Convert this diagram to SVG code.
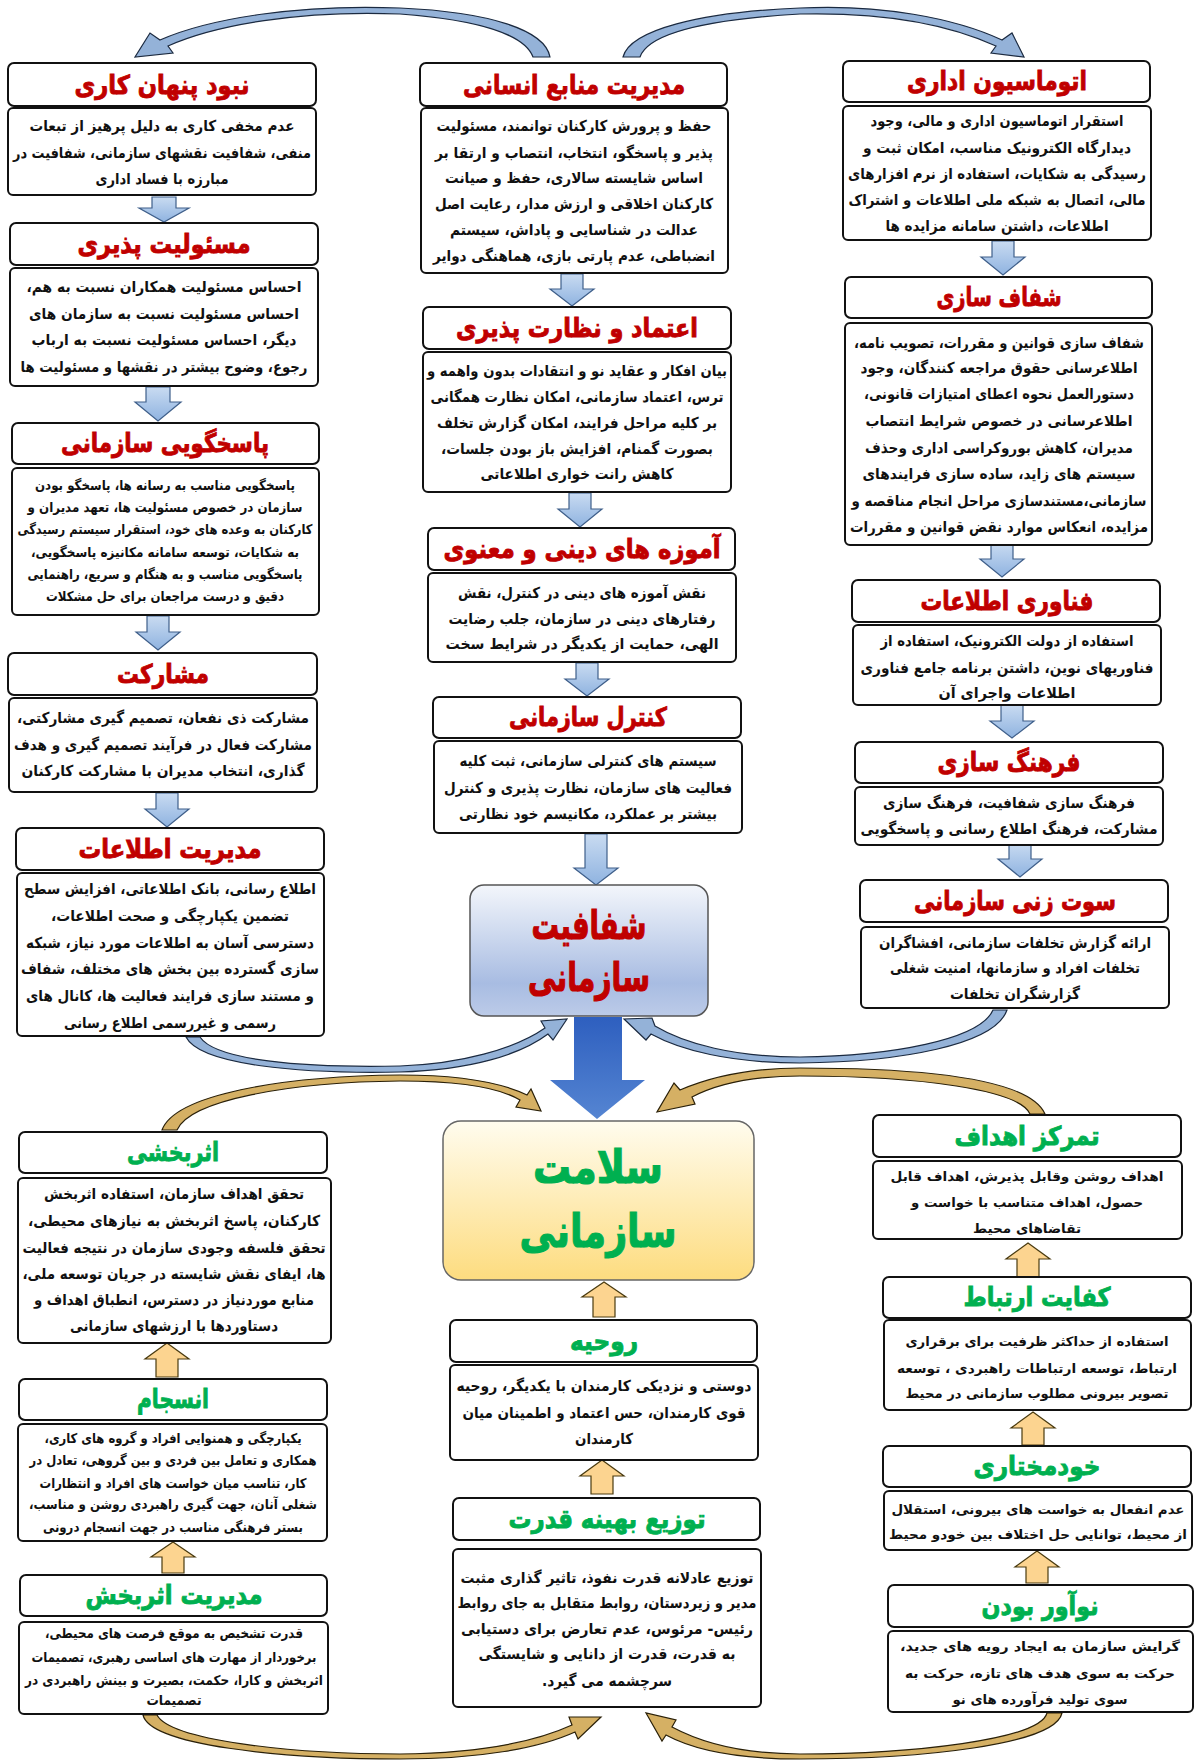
<svg xmlns="http://www.w3.org/2000/svg" width="1195" height="1760" viewBox="0 0 1195 1760">
<defs>
<linearGradient id="gBlueBox" x1="0" y1="0" x2="0" y2="1">
<stop offset="0" stop-color="#f3f6fb"/><stop offset="0.75" stop-color="#a8bce2"/><stop offset="1" stop-color="#bccbe8"/>
</linearGradient>
<linearGradient id="gGoldBox" x1="0" y1="0" x2="0" y2="1">
<stop offset="0" stop-color="#fffcee"/><stop offset="1" stop-color="#fddc7f"/>
</linearGradient>
<linearGradient id="gDown" x1="0" y1="0" x2="0" y2="1">
<stop offset="0" stop-color="#c9dbf1"/><stop offset="1" stop-color="#8fb3e0"/>
</linearGradient>
<linearGradient id="gBig" x1="0" y1="0" x2="0" y2="1">
<stop offset="0" stop-color="#2e5fbf"/><stop offset="1" stop-color="#5585d2"/>
</linearGradient>
<style>
.tb{fill:#fff;stroke:#111;stroke-width:2}
.bb{fill:#fff;stroke:#111;stroke-width:2}
.tr{font-family:"DejaVu Sans",sans-serif;font-weight:bold;font-size:26px;fill:#c00000;stroke:#c00000;stroke-width:0.9;text-anchor:middle;direction:rtl}
.tg{font-family:"DejaVu Sans",sans-serif;font-weight:bold;font-size:26px;fill:#00b050;stroke:#00b050;stroke-width:0.9;text-anchor:middle;direction:rtl}
.bt{font-family:"DejaVu Sans",sans-serif;font-weight:bold;font-size:15px;fill:#111;text-anchor:middle;direction:rtl}
.bs{font-size:13.5px}
.bx{font-size:13px}
.da{fill:url(#gDown);stroke:#3f5f8a;stroke-width:1.2}
.ua{fill:#fcd490;stroke:#4a3b10;stroke-width:1.2}
.cb{fill:#94b2d8;stroke:#1b2a40;stroke-width:1.2}
.cg{fill:#d5b064;stroke:#2a2008;stroke-width:1.2}
.big{font-family:"DejaVu Sans",sans-serif;font-weight:bold;font-size:40px;text-anchor:middle;direction:rtl;stroke-width:1.2}
</style>
</defs>
<rect width="1195" height="1760" fill="#fff"/>

<g id="connectors">
<path class="cb" d="M533 57 C525 35 480 20 400 14 C300 10 215 25 168 46 L173 53 L135 57 L150 33 L160 40 C210 18 300 4 400 8 C490 12 545 30 550 57 Z"/>
<path class="cb" d="M640 57 C648 35 700 20 800 14 C890 12 950 25 996 46 L991 53 L1024 57 L1012 33 L1002 40 C955 18 880 4 800 8 C700 12 630 30 623 57 Z"/>
<path class="cb" d="M186 1037 C200 1065 300 1074 400 1072 C470 1070 520 1055 548 1034 L553 1040 L567 1019 L541 1021 L545 1028 C515 1049 460 1064 400 1066 C300 1068 215 1060 200 1037 Z"/>
<path class="cb" d="M1007 1010 C995 1045 900 1062 800 1063 C730 1063 680 1050 651 1034 L646 1040 L624 1019 L652 1018 L655 1026 C685 1044 735 1057 800 1057 C890 1056 980 1040 993 1010 Z"/>
<path class="cg" d="M177 1130 C190 1100 290 1082 400 1081 C460 1081 500 1088 520 1100 L516 1107 L541 1111 L531 1089 L527 1095 C500 1082 460 1075 400 1075 C280 1076 175 1095 162 1130 Z"/>
<path class="cg" d="M1030 1114 C1020 1090 920 1076 800 1076 C750 1076 715 1085 692 1097 L695 1104 L657 1112 L674 1083 L680 1090 C710 1077 750 1068 800 1068 C930 1068 1030 1080 1045 1114 Z"/>
<path class="cg" d="M143 1715 C150 1745 280 1759 400 1759 C480 1759 540 1748 575 1732 L578 1739 L601 1717 L569 1717 L572 1725 C535 1742 480 1753 400 1754 C290 1754 170 1740 157 1715 Z"/>
<path class="cg" d="M1062 1713 C1055 1745 920 1759 800 1759 C730 1759 690 1748 666 1735 L662 1741 L646 1713 L676 1720 L672 1727 C700 1742 740 1754 800 1754 C910 1754 1040 1740 1047 1713 Z"/>
<path class="da" d="M152 197 H176 V208 H189 L164 222 L139 208 H152 Z"/>
<path class="da" d="M146 387 H170 V402 H181 L158 421 L135 402 H146 Z"/>
<path class="da" d="M147 616 H169 V632 H180 L158 650 L136 632 H147 Z"/>
<path class="da" d="M156 793 H178 V809 H189 L167 827 L145 809 H156 Z"/>
<path class="da" d="M561 274 H583 V289 H594 L572 306 L550 289 H561 Z"/>
<path class="da" d="M569 493 H591 V509 H602 L580 527 L558 509 H569 Z"/>
<path class="da" d="M576 663 H598 V679 H609 L587 696 L565 679 H576 Z"/>
<path class="da" d="M585 834 H607 V868 H618 L596 885 L574 868 H585 Z"/>
<path class="da" d="M992 241 H1014 V257 H1025 L1003 275 L981 257 H992 Z"/>
<path class="da" d="M991 543 H1013 V559 H1024 L1002 577 L980 559 H991 Z"/>
<path class="da" d="M1001 705 H1023 V721 H1034 L1012 738 L990 721 H1001 Z"/>
<path class="da" d="M1009 843 H1031 V859 H1042 L1020 877 L998 859 H1009 Z"/>
<path fill="url(#gBig)" d="M574 1017 H622 V1080 H645 L597 1119 L550 1080 H574 Z"/>
<path class="ua" d="M593 1317 H615 V1297 H626 L604 1282 L582 1297 H593 Z"/>
<path class="ua" d="M591 1494 H613 V1476 H624 L602 1460 L580 1476 H591 Z"/>
<path class="ua" d="M1017 1277 H1039 V1259 H1050 L1028 1243 L1006 1259 H1017 Z"/>
<path class="ua" d="M1022 1445 H1044 V1428 H1055 L1033 1412 L1011 1428 H1022 Z"/>
<path class="ua" d="M1026 1583 H1048 V1567 H1059 L1037 1551 L1015 1567 H1026 Z"/>
<path class="ua" d="M156 1377 H178 V1359 H189 L167 1343 L145 1359 H156 Z"/>
<path class="ua" d="M162 1573 H184 V1557 H195 L173 1542 L151 1557 H162 Z"/>
</g>

<g id="n-nabood">
<rect class="tb" x="8" y="63" width="308" height="43" rx="6"/>
<text class="tr" x="162" y="94" textLength="175" lengthAdjust="spacingAndGlyphs">نبود پنهان کاری</text>
<rect class="bb" x="8" y="108" width="308" height="87" rx="5"/>
<text class="bt" x="162" y="131" textLength="265" lengthAdjust="spacingAndGlyphs">عدم مخفی کاری به دلیل پرهیز از تبعات</text>
<text class="bt" x="162" y="158" textLength="298" lengthAdjust="spacingAndGlyphs">منفی، شفافیت نقشهای سازمانی، شفافیت در</text>
<text class="bt" x="162" y="184" textLength="133" lengthAdjust="spacingAndGlyphs">مبارزه با فساد اداری</text>
</g>

<g id="n-masooliat">
<rect class="tb" x="10" y="223" width="308" height="42" rx="6"/>
<text class="tr" x="164" y="253" textLength="173" lengthAdjust="spacingAndGlyphs">مسئولیت پذیری</text>
<rect class="bb" x="10" y="268" width="308" height="118" rx="5"/>
<text class="bt" x="164" y="292" textLength="275" lengthAdjust="spacingAndGlyphs">احساس مسئولیت همکاران نسبت به هم،</text>
<text class="bt" x="164" y="319" textLength="270" lengthAdjust="spacingAndGlyphs">احساس مسئولیت نسبت به سازمان های</text>
<text class="bt" x="164" y="345" textLength="265" lengthAdjust="spacingAndGlyphs">دیگر، احساس مسئولیت نسبت به ارباب</text>
<text class="bt" x="164" y="372" textLength="287" lengthAdjust="spacingAndGlyphs">رجوع، وضوح بیشتر در نقشها و مسئولیت ها</text>
</g>

<g id="n-pasokhgooyi">
<rect class="tb" x="12" y="423" width="307" height="41" rx="6"/>
<text class="tr" x="165" y="452" textLength="208" lengthAdjust="spacingAndGlyphs">پاسخگویی سازمانی</text>
<rect class="bb" x="12" y="468" width="307" height="147" rx="5"/>
<text class="bt bs" x="165" y="490" textLength="260" lengthAdjust="spacingAndGlyphs">پاسخگویی مناسب به رسانه ها، پاسخگو بودن</text>
<text class="bt bs" x="165" y="512" textLength="275" lengthAdjust="spacingAndGlyphs">سازمان در خصوص مسئولیت ها، تعهد مدیران و</text>
<text class="bt bs" x="165" y="534" textLength="295" lengthAdjust="spacingAndGlyphs">کارکنان به وعده های خود، استقرار سیستم رسیدگی</text>
<text class="bt bs" x="165" y="557" textLength="268" lengthAdjust="spacingAndGlyphs">به شکایات، توسعه سامانه مکانیزه پاسخگویی،</text>
<text class="bt bs" x="165" y="579" textLength="275" lengthAdjust="spacingAndGlyphs">پاسخگویی مناسب و به هنگام و سریع، راهنمایی</text>
<text class="bt bs" x="165" y="601" textLength="238" lengthAdjust="spacingAndGlyphs">دقیق و درست مراجعان برای حل مشکلات</text>
</g>

<g id="n-mosharekat">
<rect class="tb" x="8" y="653" width="309" height="42" rx="6"/>
<text class="tr" x="163" y="683" textLength="92" lengthAdjust="spacingAndGlyphs">مشارکت</text>
<rect class="bb" x="9" y="698" width="308" height="94" rx="5"/>
<text class="bt" x="163" y="723" textLength="292" lengthAdjust="spacingAndGlyphs">مشارکت ذی نفعان، تصمیم گیری مشارکتی،</text>
<text class="bt" x="163" y="750" textLength="298" lengthAdjust="spacingAndGlyphs">مشارکت فعال در فرآیند تصمیم گیری و هدف</text>
<text class="bt" x="163" y="776" textLength="283" lengthAdjust="spacingAndGlyphs">گذاری، انتخاب مدیران با مشارکت کارکنان</text>
</g>

<g id="n-modiriat-etelaat">
<rect class="tb" x="16" y="828" width="308" height="42" rx="6"/>
<text class="tr" x="170" y="858" textLength="183" lengthAdjust="spacingAndGlyphs">مدیریت اطلاعات</text>
<rect class="bb" x="17" y="873" width="307" height="163" rx="5"/>
<text class="bt" x="170" y="894" textLength="292" lengthAdjust="spacingAndGlyphs">اطلاع رسانی، بانک اطلاعاتی، افزایش سطح</text>
<text class="bt" x="170" y="921" textLength="238" lengthAdjust="spacingAndGlyphs">تضمین یکپارچگی و صحت اطلاعات،</text>
<text class="bt" x="170" y="948" textLength="288" lengthAdjust="spacingAndGlyphs">دسترسی آسان به اطلاعات مورد نیاز، شبکه</text>
<text class="bt" x="170" y="974" textLength="298" lengthAdjust="spacingAndGlyphs">سازی گسترده بین بخش های مختلف، شفاف</text>
<text class="bt" x="170" y="1001" textLength="288" lengthAdjust="spacingAndGlyphs">و مستند سازی فرایند فعالیت ها، کانال های</text>
<text class="bt" x="170" y="1028" textLength="212" lengthAdjust="spacingAndGlyphs">رسمی و غیررسمی اطلاع رسانی</text>
</g>

<g id="n-manabe-ensani">
<rect class="tb" x="420" y="63" width="307" height="43" rx="6"/>
<text class="tr" x="574" y="94" textLength="222" lengthAdjust="spacingAndGlyphs">مدیریت منابع انسانی</text>
<rect class="bb" x="421" y="108" width="307" height="165" rx="5"/>
<text class="bt" x="574" y="131" textLength="275" lengthAdjust="spacingAndGlyphs">حفظ و پرورش کارکنان توانمند، مسئولیت</text>
<text class="bt" x="574" y="158" textLength="278" lengthAdjust="spacingAndGlyphs">پذیر و پاسخگو، انتخاب، انتصاب و ارتقا بر</text>
<text class="bt" x="574" y="183" textLength="258" lengthAdjust="spacingAndGlyphs">اساس شایسته سالاری، حفظ و صیانت</text>
<text class="bt" x="574" y="209" textLength="278" lengthAdjust="spacingAndGlyphs">کارکنان اخلاقی و ارزش مدار، رعایت اصل</text>
<text class="bt" x="574" y="235" textLength="248" lengthAdjust="spacingAndGlyphs">عدالت در شناسایی و پاداش، سیستم</text>
<text class="bt" x="574" y="261" textLength="282" lengthAdjust="spacingAndGlyphs">انضباطی، عدم پارتی بازی، هماهنگی دوایر</text>
</g>

<g id="n-etemad">
<rect class="tb" x="423" y="307" width="308" height="42" rx="6"/>
<text class="tr" x="577" y="337" textLength="242" lengthAdjust="spacingAndGlyphs">اعتماد و نظارت پذیری</text>
<rect class="bb" x="423" y="352" width="308" height="140" rx="5"/>
<text class="bt" x="577" y="376" textLength="300" lengthAdjust="spacingAndGlyphs">بیان افکار و عقاید نو و انتقادات بدون واهمه و</text>
<text class="bt" x="577" y="402" textLength="293" lengthAdjust="spacingAndGlyphs">ترس، اعتماد سازمانی، امکان نظارت همگانی</text>
<text class="bt" x="577" y="428" textLength="280" lengthAdjust="spacingAndGlyphs">بر کلیه مراحل فرایند، امکان گزارش تخلف</text>
<text class="bt" x="577" y="454" textLength="272" lengthAdjust="spacingAndGlyphs">بصورت گمنام، افزایش باز بودن جلسات،</text>
<text class="bt" x="577" y="479" textLength="193" lengthAdjust="spacingAndGlyphs">کاهش رانت خواری اطلاعاتی</text>
</g>

<g id="n-amoozeh">
<rect class="tb" x="428" y="528" width="307" height="42" rx="6"/>
<text class="tr" x="582" y="558" textLength="277" lengthAdjust="spacingAndGlyphs">آموزه های دینی و معنوی</text>
<rect class="bb" x="428" y="573" width="308" height="89" rx="5"/>
<text class="bt" x="582" y="598" textLength="248" lengthAdjust="spacingAndGlyphs">نقش آموزه های دینی در کنترل، نقش</text>
<text class="bt" x="582" y="624" textLength="267" lengthAdjust="spacingAndGlyphs">رفتارهای دینی در سازمان، جلب رضایت</text>
<text class="bt" x="582" y="649" textLength="273" lengthAdjust="spacingAndGlyphs">الهی، حمایت از یکدیگر در شرایط سخت</text>
</g>

<g id="n-control">
<rect class="tb" x="433" y="697" width="308" height="41" rx="6"/>
<text class="tr" x="588" y="726" textLength="158" lengthAdjust="spacingAndGlyphs">کنترل سازمانی</text>
<rect class="bb" x="434" y="741" width="308" height="92" rx="5"/>
<text class="bt" x="588" y="766" textLength="257" lengthAdjust="spacingAndGlyphs">سیستم های کنترلی سازمانی، ثبت کلیه</text>
<text class="bt" x="588" y="793" textLength="288" lengthAdjust="spacingAndGlyphs">فعالیت های سازمان، نظارت پذیری و کنترل</text>
<text class="bt" x="588" y="819" textLength="258" lengthAdjust="spacingAndGlyphs">بیشتر بر عملکرد، مکانیسم خود نظارتی</text>
</g>

<g id="n-automation">
<rect class="tb" x="843" y="61" width="307" height="41" rx="6"/>
<text class="tr" x="997" y="90" textLength="180" lengthAdjust="spacingAndGlyphs">اتوماسیون اداری</text>
<rect class="bb" x="843" y="106" width="308" height="134" rx="5"/>
<text class="bt" x="997" y="126" textLength="253" lengthAdjust="spacingAndGlyphs">استقرار اتوماسیون اداری و مالی، وجود</text>
<text class="bt" x="997" y="153" textLength="268" lengthAdjust="spacingAndGlyphs">دیدارگاه الکترونیک مناسب، امکان ثبت و</text>
<text class="bt" x="997" y="179" textLength="298" lengthAdjust="spacingAndGlyphs">رسیدگی به شکایات، استفاده از نرم افزارهای</text>
<text class="bt" x="997" y="205" textLength="297" lengthAdjust="spacingAndGlyphs">مالی، اتصال به شبکه ملی اطلاعات و اشتراک</text>
<text class="bt" x="997" y="231" textLength="223" lengthAdjust="spacingAndGlyphs">اطلاعات، داشتن سامانه مزایده ها</text>
</g>

<g id="n-shafafsazi">
<rect class="tb" x="845" y="277" width="307" height="41" rx="6"/>
<text class="tr" x="999" y="306" textLength="125" lengthAdjust="spacingAndGlyphs">شفاف سازی</text>
<rect class="bb" x="845" y="323" width="307" height="222" rx="5"/>
<text class="bt" x="999" y="348" textLength="290" lengthAdjust="spacingAndGlyphs">شفاف سازی قوانین و مقررات، تصویب نامه،</text>
<text class="bt" x="999" y="373" textLength="277" lengthAdjust="spacingAndGlyphs">اطلاعرسانی حقوق مراجعه کنندگان، وجود</text>
<text class="bt" x="999" y="399" textLength="270" lengthAdjust="spacingAndGlyphs">دستورالعمل نحوه اعطای امتیازات قانونی،</text>
<text class="bt" x="999" y="426" textLength="267" lengthAdjust="spacingAndGlyphs">اطلاعرسانی در خصوص شرایط انتصاب</text>
<text class="bt" x="999" y="453" textLength="268" lengthAdjust="spacingAndGlyphs">مدیران، کاهش بوروکراسی اداری وحذف</text>
<text class="bt" x="999" y="479" textLength="273" lengthAdjust="spacingAndGlyphs">سیستم های زاید، ساده سازی فرایندهای</text>
<text class="bt" x="999" y="506" textLength="295" lengthAdjust="spacingAndGlyphs">سازمانی،مستندسازی مراحل انجام مناقصه و</text>
<text class="bt" x="999" y="532" textLength="298" lengthAdjust="spacingAndGlyphs">مزایده، انعکاس موارد نقض قوانین و مقررات</text>
</g>

<g id="n-fanavari">
<rect class="tb" x="852" y="580" width="308" height="42" rx="6"/>
<text class="tr" x="1007" y="610" textLength="173" lengthAdjust="spacingAndGlyphs">فناوری اطلاعات</text>
<rect class="bb" x="853" y="625" width="308" height="80" rx="5"/>
<text class="bt" x="1007" y="646" textLength="253" lengthAdjust="spacingAndGlyphs">استفاده از دولت الکترونیک، استفاده از</text>
<text class="bt" x="1007" y="673" textLength="293" lengthAdjust="spacingAndGlyphs">فناوریهای نوین، داشتن برنامه جامع فناوری</text>
<text class="bt" x="1007" y="698" textLength="137" lengthAdjust="spacingAndGlyphs">اطلاعات واجرای آن</text>
</g>

<g id="n-farhangsazi">
<rect class="tb" x="855" y="742" width="308" height="41" rx="6"/>
<text class="tr" x="1009" y="771" textLength="143" lengthAdjust="spacingAndGlyphs">فرهنگ سازی</text>
<rect class="bb" x="855" y="787" width="308" height="58" rx="5"/>
<text class="bt" x="1009" y="808" textLength="252" lengthAdjust="spacingAndGlyphs">فرهنگ سازی شفافیت، فرهنگ سازی</text>
<text class="bt" x="1009" y="834" textLength="297" lengthAdjust="spacingAndGlyphs">مشارکت، فرهنگ اطلاع رسانی و پاسخگویی</text>
</g>

<g id="n-sootzani">
<rect class="tb" x="860" y="880" width="308" height="42" rx="6"/>
<text class="tr" x="1015" y="910" textLength="202" lengthAdjust="spacingAndGlyphs">سوت زنی سازمانی</text>
<rect class="bb" x="861" y="927" width="308" height="81" rx="5"/>
<text class="bt" x="1015" y="948" textLength="272" lengthAdjust="spacingAndGlyphs">ارائه گزارش تخلفات سازمانی، افشاگران</text>
<text class="bt" x="1015" y="973" textLength="250" lengthAdjust="spacingAndGlyphs">تخلفات افراد و سازمانها، امنیت شغلی</text>
<text class="bt" x="1015" y="999" textLength="130" lengthAdjust="spacingAndGlyphs">گزارشگران تخلفات</text>
</g>

<g id="n-shafafiat">
<rect x="470" y="885" width="238" height="131" rx="14" fill="url(#gBlueBox)" stroke="#555" stroke-width="1.5"/>
<text class="big" fill="#c00000" stroke="#c00000" x="589" y="939" textLength="115" lengthAdjust="spacingAndGlyphs">شفافیت</text>
<text class="big" fill="#c00000" stroke="#c00000" x="589" y="991" textLength="122" lengthAdjust="spacingAndGlyphs">سازمانی</text>
</g>

<g id="n-salamat">
<rect x="443" y="1121" width="311" height="159" rx="18" fill="url(#gGoldBox)" stroke="#666" stroke-width="1.5"/>
<text class="big" fill="#00b050" stroke="#00b050" x="598" y="1183" style="font-size:46px" textLength="130" lengthAdjust="spacingAndGlyphs">سلامت</text>
<text class="big" fill="#00b050" stroke="#00b050" x="598" y="1247" style="font-size:46px" textLength="157" lengthAdjust="spacingAndGlyphs">سازمانی</text>
</g>

<g id="n-asarbakhshi">
<rect class="tb" x="19" y="1132" width="308" height="41" rx="6"/>
<text class="tg" x="173" y="1161" textLength="92" lengthAdjust="spacingAndGlyphs">اثربخشی</text>
<rect class="bb" x="18" y="1178" width="313" height="165" rx="5"/>
<text class="bt" x="174" y="1199" textLength="260" lengthAdjust="spacingAndGlyphs">تحقق اهداف سازمان، استفاده اثربخش</text>
<text class="bt" x="174" y="1226" textLength="292" lengthAdjust="spacingAndGlyphs">کارکنان، پاسخ اثربخش به نیازهای محیطی،</text>
<text class="bt" x="174" y="1253" textLength="303" lengthAdjust="spacingAndGlyphs">تحقق فلسفه وجودی سازمان در نتیجه فعالیت</text>
<text class="bt" x="174" y="1279" textLength="303" lengthAdjust="spacingAndGlyphs">ها، ایفای نقش شایسته در جریان توسعه ملی،</text>
<text class="bt" x="174" y="1305" textLength="280" lengthAdjust="spacingAndGlyphs">منابع موردنیاز در دسترس، انطباق اهداف و</text>
<text class="bt" x="174" y="1331" textLength="208" lengthAdjust="spacingAndGlyphs">دستاوردها با ارزشهای سازمانی</text>
</g>

<g id="n-ensejam">
<rect class="tb" x="19" y="1379" width="308" height="41" rx="6"/>
<text class="tg" x="173" y="1408" textLength="72" lengthAdjust="spacingAndGlyphs">انسجام</text>
<rect class="bb" x="18" y="1424" width="309" height="117" rx="5"/>
<text class="bt bs" x="173" y="1443" textLength="257" lengthAdjust="spacingAndGlyphs">یکپارچگی و همنوایی افراد و گروه های کاری،</text>
<text class="bt bs" x="173" y="1465" textLength="287" lengthAdjust="spacingAndGlyphs">همکاری و تعامل بین فردی و بین گروهی، تعادل در</text>
<text class="bt bs" x="173" y="1488" textLength="267" lengthAdjust="spacingAndGlyphs">کار، تناسب میان خواست های افراد و انتظارات</text>
<text class="bt bs" x="173" y="1509" textLength="288" lengthAdjust="spacingAndGlyphs">شغلی آنان، جهت گیری راهبردی روشن و مناسب،</text>
<text class="bt bs" x="173" y="1532" textLength="260" lengthAdjust="spacingAndGlyphs">بستر فرهنگی مناسب در جهت انسجام درونی</text>
</g>

<g id="n-modiriat-asarbakhsh">
<rect class="tb" x="20" y="1575" width="307" height="41" rx="6"/>
<text class="tg" x="174" y="1604" textLength="177" lengthAdjust="spacingAndGlyphs">مدیریت اثربخش</text>
<rect class="bb" x="19" y="1622" width="309" height="92" rx="5"/>
<text class="bt bs" x="174" y="1638" textLength="258" lengthAdjust="spacingAndGlyphs">قدرت تشخیص به موقع فرصت های محیطی،</text>
<text class="bt bs" x="174" y="1662" textLength="285" lengthAdjust="spacingAndGlyphs">برخوردار از مهارت های اساسی رهبری، تصمیمات</text>
<text class="bt bs" x="174" y="1685" textLength="298" lengthAdjust="spacingAndGlyphs">اثربخش و کارا، حکمت، بصیرت و بینش راهبردی در</text>
<text class="bt bs" x="174" y="1705" textLength="55" lengthAdjust="spacingAndGlyphs">تصمیمات</text>
</g>

<g id="n-roohiyeh">
<rect class="tb" x="450" y="1320" width="307" height="42" rx="6"/>
<text class="tg" x="604" y="1350" textLength="68" lengthAdjust="spacingAndGlyphs">روحیه</text>
<rect class="bb" x="450" y="1365" width="308" height="95" rx="5"/>
<text class="bt" x="604" y="1391" textLength="295" lengthAdjust="spacingAndGlyphs">دوستی و نزدیکی کارمندان با یکدیگر، روحیه</text>
<text class="bt" x="604" y="1418" textLength="283" lengthAdjust="spacingAndGlyphs">قوی کارمندان، حس اعتماد و اطمینان میان</text>
<text class="bt" x="604" y="1444" textLength="58" lengthAdjust="spacingAndGlyphs">کارمندان</text>
</g>

<g id="n-tozi">
<rect class="tb" x="453" y="1498" width="307" height="42" rx="6"/>
<text class="tg" x="607" y="1528" textLength="197" lengthAdjust="spacingAndGlyphs">توزیع بهینه قدرت</text>
<rect class="bb" x="453" y="1549" width="308" height="158" rx="5"/>
<text class="bt" x="607" y="1583" textLength="293" lengthAdjust="spacingAndGlyphs">توزیع عادلانه قدرت نفوذ، تاثیر گذاری مثبت</text>
<text class="bt" x="607" y="1608" textLength="299" lengthAdjust="spacingAndGlyphs">مدیر و زیردستان، روابط متقابل به جای روابط</text>
<text class="bt" x="607" y="1634" textLength="292" lengthAdjust="spacingAndGlyphs">رئیس- مرئوس، عدم تعارض برای دستیابی</text>
<text class="bt" x="607" y="1659" textLength="257" lengthAdjust="spacingAndGlyphs">به قدرت، قدرت از دانایی و شایستگی</text>
<text class="bt" x="607" y="1686" textLength="130" lengthAdjust="spacingAndGlyphs">سرچشمه می گیرد.</text>
</g>

<g id="n-tamarkoz">
<rect class="tb" x="873" y="1115" width="308" height="42" rx="6"/>
<text class="tg" x="1027" y="1145" textLength="145" lengthAdjust="spacingAndGlyphs">تمرکز اهداف</text>
<rect class="bb" x="873" y="1161" width="309" height="78" rx="5"/>
<text class="bt bx" x="1027" y="1181" textLength="273" lengthAdjust="spacingAndGlyphs">اهداف روشن وقابل پذیرش، اهداف قابل</text>
<text class="bt bx" x="1027" y="1207" textLength="232" lengthAdjust="spacingAndGlyphs">حصول، اهداف متناسب با خواست و</text>
<text class="bt bx" x="1027" y="1233" textLength="108" lengthAdjust="spacingAndGlyphs">تقاضاهای محیط</text>
</g>

<g id="n-kefayat">
<rect class="tb" x="883" y="1277" width="308" height="41" rx="6"/>
<text class="tg" x="1037" y="1306" textLength="147" lengthAdjust="spacingAndGlyphs">کفایت ارتباط</text>
<rect class="bb" x="884" y="1320" width="307" height="90" rx="5"/>
<text class="bt bx" x="1037" y="1346" textLength="263" lengthAdjust="spacingAndGlyphs">استفاده از حداکثر ظرفیت برای برقراری</text>
<text class="bt bx" x="1037" y="1373" textLength="280" lengthAdjust="spacingAndGlyphs">ارتباط، توسعه ارتباطات راهبردی ، توسعه</text>
<text class="bt bx" x="1037" y="1398" textLength="263" lengthAdjust="spacingAndGlyphs">تصویر بیرونی مطلوب سازمانی در محیط</text>
</g>

<g id="n-khodmokhtari">
<rect class="tb" x="883" y="1446" width="308" height="41" rx="6"/>
<text class="tg" x="1037" y="1475" textLength="127" lengthAdjust="spacingAndGlyphs">خودمختاری</text>
<rect class="bb" x="884" y="1491" width="308" height="59" rx="5"/>
<text class="bt bx" x="1038" y="1514" textLength="293" lengthAdjust="spacingAndGlyphs">عدم انفعال به خواست های بیرونی، استقلال</text>
<text class="bt bx" x="1038" y="1539" textLength="298" lengthAdjust="spacingAndGlyphs">از محیط، توانایی حل اختلاف بین خودو محیط</text>
</g>

<g id="n-noavar">
<rect class="tb" x="888" y="1585" width="305" height="42" rx="6"/>
<text class="tg" x="1040" y="1615" textLength="117" lengthAdjust="spacingAndGlyphs">نوآور بودن</text>
<rect class="bb" x="888" y="1631" width="305" height="81" rx="5"/>
<text class="bt bx" x="1040" y="1651" textLength="280" lengthAdjust="spacingAndGlyphs">گرایش سازمان به ایجاد رویه های جدید،</text>
<text class="bt bx" x="1040" y="1678" textLength="270" lengthAdjust="spacingAndGlyphs">حرکت به سوی هدف های تازه، حرکت به</text>
<text class="bt bx" x="1040" y="1704" textLength="175" lengthAdjust="spacingAndGlyphs">سوی تولید فرآورده های نو</text>
</g>
</svg>
